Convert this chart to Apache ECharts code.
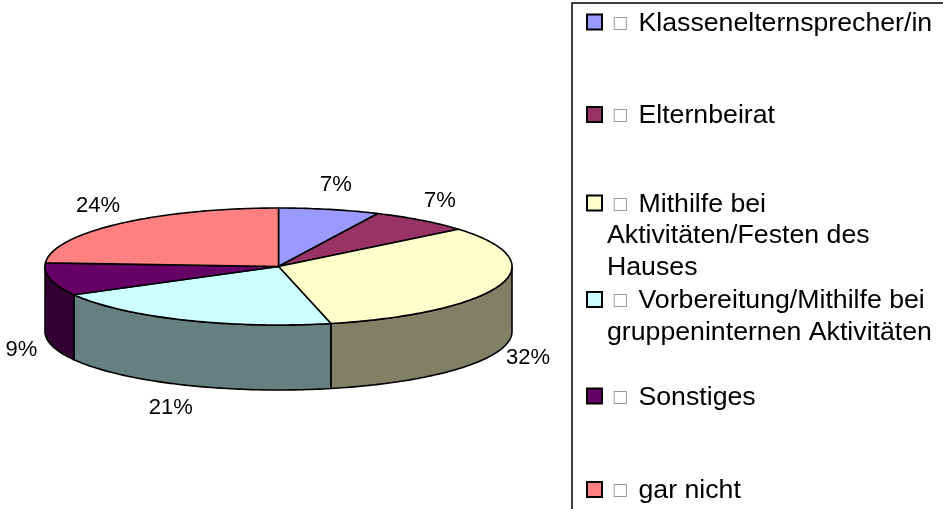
<!DOCTYPE html>
<html><head><meta charset="utf-8">
<script src="https://cdn.jsdelivr.net/npm/echarts@6/dist/echarts.min.js"></script>
<style>html,body{margin:0;padding:0;background:#fff}#c{width:943px;height:509px}</style>
</head><body><div id="c"></div>
<script>
// ---- data ----
const categories = ['Klassenelternsprecher/in', 'Elternbeirat', 'Mithilfe bei Aktivitäten/Festen des Hauses', 'Vorbereitung/Mithilfe bei gruppeninternen Aktivitäten', 'Sonstiges', 'gar nicht'];
const legendLabels = ['Klassenelternsprecher/in', 'Elternbeirat', 'Mithilfe bei\nAktivitäten/Festen des\nHauses', 'Vorbereitung/Mithilfe bei\ngruppeninternen Aktivitäten', 'Sonstiges', 'gar nicht'];
const values = [7, 7, 32.4, 20.6, 9, 24];

// ---- styles / layout ----
const topColors = ['#9999FF', '#993366', '#FFFFCC', '#CCFFFF', '#660066', '#FF8080'];
const sideColors = ['#4D4D80', '#4D1A33', '#808066', '#668080', '#330033', '#804040'];
const LAYOUT = { cx: 278.5, cy: 266.5, rx: 233.5, ry: 58.5, depth: 65, legendMid: [22, 114.5, 203, 299.5, 396, 489.5], lh: 31.5 };
const FONT = 'Liberation Sans, Arial, Helvetica, sans-serif';

const total = values.reduce((a, b) => a + b, 0);
function pt(deg, dy) {
  const r = deg * Math.PI / 180;
  return [LAYOUT.cx + LAYOUT.rx * Math.sin(r), LAYOUT.cy - LAYOUT.ry * Math.cos(r) + (dy || 0)];
}
function arc(a0, a1, dy) {
  const pts = [];
  const n = Math.max(2, Math.ceil(Math.abs(a1 - a0)));
  for (let i = 0; i <= n; i++) pts.push(pt(a0 + (a1 - a0) * i / n, dy));
  return pts;
}
function makeRender(idx) {
  return function (params, api) {
    const v = api.value(0);
    let before = 0;
    for (let k = 0; k < idx; k++) before += values[k];
    const a0 = before / total * 360, a1 = (before + v) / total * 360;
    const children = [];
    const s = Math.max(a0, 90), e = Math.min(a1, 270);
    if (e > s) {
      const pts = arc(s, e, 0).concat(arc(e, s, LAYOUT.depth));
      children.push({ type: 'polygon', shape: { points: pts }, style: { fill: sideColors[idx], stroke: '#000', lineWidth: 1.6, lineJoin: 'round' }, z2: 1 });
    }
    const top = [[LAYOUT.cx, LAYOUT.cy]].concat(arc(a0, a1, 0));
    children.push({ type: 'polygon', shape: { points: top }, style: { fill: topColors[idx], stroke: '#000', lineWidth: 1.6, lineJoin: 'round' }, z2: 5 });
    const mid = (a0 + a1) / 2 * Math.PI / 180;
    const sx = Math.sin(mid), cyv = Math.cos(mid);
    const lx = LAYOUT.cx + (LAYOUT.rx + 30) * sx;
    const ly = LAYOUT.cy - (LAYOUT.ry + 25) * cyv + (cyv < 0 ? LAYOUT.depth : 0);
    children.push({ type: 'text', x: lx, y: ly, style: { text: Math.round(v / total * 100) + '%', fontSize: 22, fontFamily: FONT, fill: '#000', align: 'center', verticalAlign: 'middle' }, z2: 10 });
    return { type: 'group', children: children };
  };
}

const chart = echarts.init(document.getElementById('c'), null, { renderer: 'canvas' });
const series = categories.map((name, i) => ({
  type: 'custom',
  name: name,
  coordinateSystem: 'none',
  itemStyle: { color: topColors[i] },
  data: [[values[i]]],
  renderItem: makeRender(i),
  silent: true
}));
const legends = categories.map((name, i) => {
  const n = legendLabels[i].split('\n').length;
  return {
    data: [name],
    left: 586,
    top: LAYOUT.legendMid[i] - (n - 0.5) * LAYOUT.lh - 1.5,
    padding: 0,
    orient: 'vertical',
    selectedMode: false,
    icon: 'rect',
    itemWidth: 15,
    itemHeight: 15,
    itemStyle: { borderColor: '#000', borderWidth: 2 },
    formatter: () => '{g|\u25A1} ' + legendLabels[i],
    textStyle: {
      fontSize: 26.7, lineHeight: LAYOUT.lh, fontFamily: FONT, color: '#000',
      padding: [(n - 1) * LAYOUT.lh + 3, 0, 0, 0],
      rich: { g: { fontSize: 17, color: '#999', fontFamily: 'DejaVu Sans', lineHeight: LAYOUT.lh, padding: [0, 3, 0, 5] } }
    }
  };
});
chart.setOption({
  animation: false,
  backgroundColor: '#fff',
  legend: legends,
  graphic: [{ type: 'rect', shape: { x: 572, y: 3, width: 420, height: 530 }, style: { fill: 'none', stroke: '#000', lineWidth: 1.5 }, silent: true }],
  series: series
});
</script></body></html>
